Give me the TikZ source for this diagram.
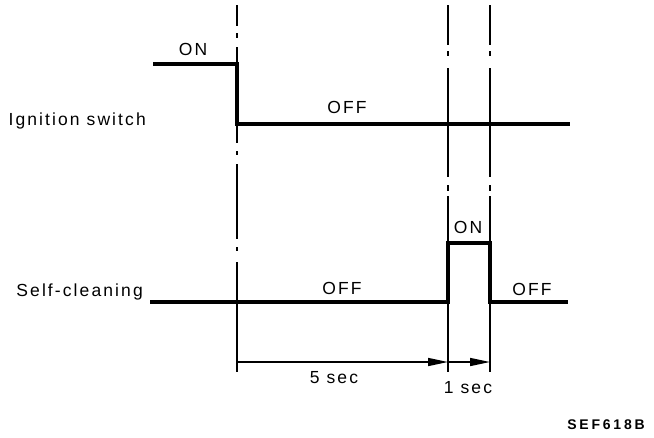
\documentclass[tikz,border=0pt]{standalone}
\usepackage{fontspec}
\setmainfont{Liberation Sans}[LetterSpace=12]
\newfontfamily\codefont{Liberation Sans}[LetterSpace=20]
\usetikzlibrary{arrows.meta}
\begin{document}
\begin{tikzpicture}[x=1pt,y=-1pt,
  sig/.style={line width=3.4pt,line join=miter},
  guide/.style={line width=1.5pt},
  guidea/.style={guide,dash pattern=on 21pt off 7pt on 5pt off 9pt on 96pt off 8pt on 4pt off 9pt on 75pt off 8pt on 4pt off 11pt on 300pt off 1pt},
  guideb/.style={guide,dash pattern=on 40pt off 6pt on 5pt off 12pt on 109pt off 8pt on 6pt off 5pt on 300pt off 1pt},
  dim/.style={line width=1.6pt},
  dimarrow/.style={dim,-{Triangle[length=20pt,width=8pt]}},
  lbl/.style={font=\fontsize{17.5}{20}\selectfont,inner sep=0pt,anchor=base}]
\useasboundingbox (0,0) rectangle (654,437);
% key coordinates
\coordinate (t0) at (237,5);
\coordinate (t1) at (448,5);
\coordinate (t2) at (490,5);
\coordinate (b0) at (237,372);
\coordinate (b1) at (448,372);
\coordinate (b2) at (490,372);
\coordinate (d0) at (237,362);
\coordinate (d1) at (448,362);
\coordinate (d2) at (490,362);
% guide lines
\draw[guidea] (t0) -- (b0);
\draw[guideb] (t1) -- (b1);
\draw[guideb] (t2) -- (b2);
% ignition switch signal
\coordinate (i0) at (153,64);
\coordinate (i1) at (237,64);
\coordinate (i2) at (237,124);
\coordinate (i3) at (570,124);
\draw[sig] (i0) -- (i1) -- (i2) -- (i3);
% self-cleaning signal
\coordinate (s0) at (150,302);
\coordinate (s1) at (448,302);
\coordinate (s2) at (448,243);
\coordinate (s3) at (490,243);
\coordinate (s4) at (490,302);
\coordinate (s5) at (568,302);
\draw[sig] (s0) -- (s1) -- (s2) -- (s3) -- (s4) -- (s5);
% dimension arrows
\draw[dimarrow] (d0) -- (d1);
\draw[dimarrow] (d1) -- (d2);
% labels
\node[lbl,anchor=base east] (ign) at (146,125) {Ignition switch};
\node[lbl,anchor=base east] (self) at (143,296) {Self-cleaning};
\node[lbl] (on1) at (193,55) {ON};
\node[lbl] (off1) at (347,113) {OFF};
\node[lbl] (on2) at (468,233) {ON};
\node[lbl] (off2) at (342,294) {OFF};
\node[lbl] (off3) at (532,295) {OFF};
\node[lbl] (five) at (334,383) {5 sec};
\node[lbl] (one) at (468,393) {1 sec};
\node[inner sep=0pt,anchor=base,font=\codefont\bfseries\fontsize{14}{16}\selectfont] (code) at (606,429) {SEF618B};
\end{tikzpicture}
\end{document}
